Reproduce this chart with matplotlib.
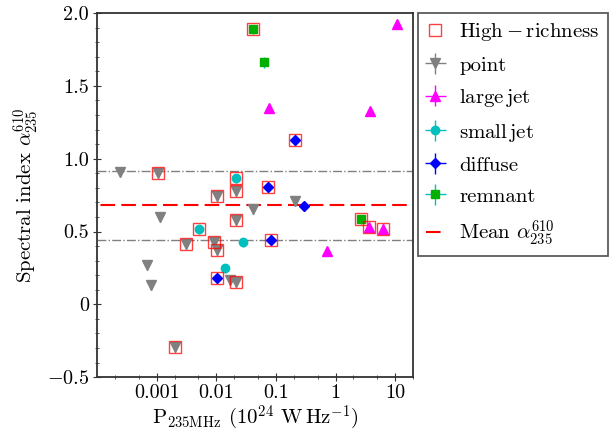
import numpy as np
import matplotlib
matplotlib.use("Agg")
import matplotlib.pyplot as plt
from matplotlib.ticker import LogLocator, MultipleLocator, NullFormatter

plt.rcParams['font.family'] = 'cmr10'
plt.rcParams['mathtext.fontset'] = 'cm'
plt.rcParams['axes.unicode_minus'] = False
plt.rcParams['font.size'] = 14.5

# power at 235 MHz (1e24 W/Hz) and spectral index, per morphology class
point_P = [2.4e-4, 0.00106, 0.021, 0.0104, 0.213, 0.00114, 0.042, 0.021,
           0.0031, 0.0093, 0.0104, 6.9e-4, 8.1e-4, 0.0172, 0.021, 0.0020]
point_a = [0.907, 0.90, 0.776, 0.742, 0.707, 0.598, 0.652, 0.577,
           0.412, 0.426, 0.371, 0.268, 0.13, 0.17, 0.151, -0.295]
point_e = [0.03, 0.03, 0.03, 0.03, 0.03, 0.03, 0.03, 0.03,
           0.03, 0.03, 0.03, 0.03, 0.03, 0.03, 0.03, 0.03]
point_hr = [0, 1, 1, 1, 0, 0, 0, 1, 1, 1, 1, 0, 0, 0, 1, 1]

ljet_P = [0.078, 3.73, 10.6, 0.71, 3.59, 6.2]
ljet_a = [1.346, 1.326, 1.923, 0.364, 0.53, 0.52]
ljet_e = [0.03, 0.03, 0.03, 0.03, 0.03, 0.03]
ljet_hr = [0, 0, 0, 0, 1, 1]

sjet_P = [0.021, 0.0052, 0.028, 0.0142]
sjet_a = [0.866, 0.515, 0.426, 0.247]
sjet_e = [0.03, 0.03, 0.03, 0.03]
sjet_hr = [1, 1, 0, 0]

diff_P = [0.213, 0.075, 0.30, 0.084, 0.0104]
diff_a = [1.126, 0.804, 0.673, 0.44, 0.178]
diff_e = [0.03, 0.03, 0.03, 0.03, 0.03]
diff_hr = [1, 1, 0, 1, 1]

rem_P = [0.042, 0.062, 2.63]
rem_a = [1.889, 1.662, 0.584]
rem_e = [0.03, 0.04, 0.03]
rem_hr = [1, 0, 1]

mean_alpha = 0.68
alpha_std = 0.235

fig = plt.figure(figsize=(6.11, 4.37), dpi=100)
ax = fig.add_axes([0.159, 0.137, 0.517, 0.833])

# high-richness boxes
hrx = []
hry = []
for P, a, hr in [(point_P, point_a, point_hr), (ljet_P, ljet_a, ljet_hr),
                 (sjet_P, sjet_a, sjet_hr), (diff_P, diff_a, diff_hr),
                 (rem_P, rem_a, rem_hr)]:
    for i in range(len(P)):
        if hr[i]:
            hrx.append(P[i])
            hry.append(a[i])
h0, = ax.plot(hrx, hry, 's', ms=9, mfc='none', mec='red', mew=1.0, alpha=0.75,
              zorder=4, label=r'$\mathrm{High-richness}$')

def eb(P, a, e, fmt, c, ec, ms, label):
    P = np.array(P)
    return ax.errorbar(P, a, yerr=e, xerr=[P*0.03, P*0.03], fmt=fmt, color=c,
                       ecolor=ec, ms=ms, elinewidth=1.0, capsize=0, zorder=3,
                       label=label)

h1 = eb(point_P, point_a, point_e, 'v', 'grey', 'grey', 6.5, 'point')
h2 = eb(ljet_P, ljet_a, ljet_e, '^', 'magenta', 'magenta', 7, r'$\mathrm{large\,jet}$')
h3 = eb(sjet_P, sjet_a, sjet_e, 'o', 'c', 'c', 6, r'$\mathrm{small\,jet}$')
h4 = eb(diff_P, diff_a, diff_e, 'D', 'blue', 'blue', 5.5, 'diffuse')
h5 = eb(rem_P, rem_a, rem_e, 's', '#00b000', 'c', 5.5, 'remnant')

ax.axhline(mean_alpha + alpha_std, color='grey', ls='-.', lw=1.0, zorder=1)
ax.axhline(mean_alpha - alpha_std, color='grey', ls='-.', lw=1.0, zorder=1)
h6, = ax.plot([1e-5, 100], [mean_alpha, mean_alpha], color='red', lw=1.5,
              dashes=(7, 3), zorder=2, label=r'Mean $\alpha_{235}^{610}$')

ax.set_xscale('log')
ax.set_xlim(1.0e-4, 20)
ax.set_ylim(-0.5, 2.0)
ax.set_xticks([1e-3, 1e-2, 1e-1, 1, 10])
ax.set_xticklabels(['0.001', '0.01', '0.1', '1', '10'])
ax.xaxis.set_minor_locator(LogLocator(base=10, subs=[2, 5]))
ax.xaxis.set_minor_formatter(NullFormatter())
ax.set_yticks([-0.5, 0, 0.5, 1.0, 1.5, 2.0])
ax.set_yticklabels([r'$-0.5$', '0', '0.5', '1.0', '1.5', '2.0'])
ax.yaxis.set_minor_locator(MultipleLocator(0.1))
ax.tick_params(which='both', direction='inout', color='#333333')
ax.tick_params(which='major', length=6, pad=3)
ax.tick_params(axis='x', which='major', pad=2)
ax.tick_params(which='minor', length=3)
for s in ax.spines.values():
    s.set_color('#333333')
    s.set_linewidth(1.3)

ax.set_xlabel(r'P$_{\rm 235MHz}$ (10$^{24}$ W$\,$Hz$^{-1}$)', fontsize=15, labelpad=1)
ax.set_ylabel(r'Spectral index $\alpha_{235}^{610}$', fontsize=15)

leg = ax.legend(handles=[h0, h1, h2, h3, h4, h5, h6], loc='upper left',
                bbox_to_anchor=(1.015, 1.0), borderaxespad=0, fancybox=False,
                edgecolor='#333333', handlelength=0.9, handletextpad=0.7,
                labelspacing=0.6, fontsize=15)
leg.get_frame().set_linewidth(1.3)

plt.savefig('out.png', dpi=100)
